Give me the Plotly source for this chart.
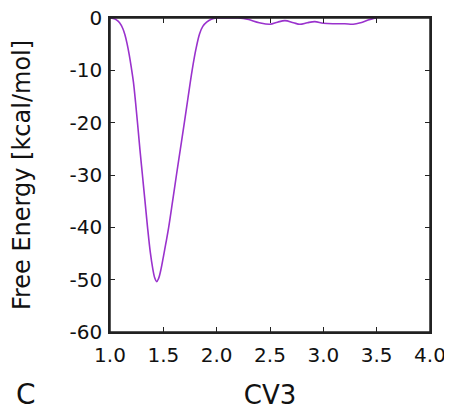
import plotly.graph_objects as go

# Free energy profile along CV3
cv3 = [1.00, 1.03, 1.06, 1.09, 1.12, 1.14, 1.16, 1.18, 1.20, 1.22, 1.24, 1.26,
       1.28, 1.304, 1.328, 1.352, 1.378, 1.40, 1.42, 1.437, 1.455, 1.475, 1.50,
       1.525, 1.55, 1.587, 1.623, 1.66, 1.697, 1.733, 1.77, 1.805, 1.84, 1.87,
       1.906, 1.95, 2.00, 2.10, 2.20, 2.25, 2.30, 2.40, 2.50, 2.57, 2.64, 2.72,
       2.78, 2.85, 2.92, 3.00, 3.10, 3.20, 3.28, 3.35, 3.42, 3.48, 3.50]
free_energy = [0.0, -0.1, -0.35, -0.9, -2.0, -3.2, -4.9, -7.0, -9.5, -12.3, -16.2, -20.5,
               -25.0, -30.0, -35.0, -40.0, -44.8, -47.8, -49.7, -50.4, -49.8, -48.3, -45.7,
               -42.9, -40.0, -35.0, -30.0, -25.0, -20.0, -15.0, -10.0, -6.0, -3.0, -1.6,
               -0.8, -0.25, 0.0, 0.0, 0.0, -0.1, -0.3, -0.9, -1.2, -0.8, -0.5, -0.9,
               -1.2, -0.9, -0.7, -1.0, -1.1, -1.1, -1.2, -0.9, -0.4, -0.05, 0.0]

x_ticks = [1.0, 1.5, 2.0, 2.5, 3.0, 3.5, 4.0]
x_tick_labels = ["1.0", "1.5", "2.0", "2.5", "3.0", "3.5", "4.0"]
y_ticks = [0, -10, -20, -30, -40, -50, -60]
y_tick_labels = ["0", "-10", "-20", "-30", "-40", "-50", "-60"]

x_title = "CV3"
y_title = "Free Energy [kcal/mol]"
panel_label = "C"

FONT = "DejaVu Sans"
AXIS_COLOR = "#222222"
TEXT_COLOR = "#111111"

fig = go.Figure()
fig.add_trace(go.Scatter(
    x=cv3, y=free_energy, mode="lines",
    line=dict(color="#9a32cd", width=1.6, shape="spline", smoothing=1.0),
    showlegend=False, hoverinfo="skip",
))

axis_common = dict(
    showline=True, linecolor=AXIS_COLOR, linewidth=1.5, mirror="ticks",
    ticks="inside", ticklen=5, tickwidth=1.2, tickcolor=AXIS_COLOR,
    showgrid=False, zeroline=False, automargin=False,
    ticklabeloverflow="allow",
    tickfont=dict(family=FONT, size=20, color=TEXT_COLOR),
)

fig.update_xaxes(
    range=[1.0, 4.0], tickmode="array", tickvals=x_ticks, ticktext=x_tick_labels,
    ticklabelstandoff=4,
    title=dict(text=x_title, font=dict(family=FONT, size=26, color=TEXT_COLOR), standoff=20),
    **axis_common,
)
fig.update_yaxes(
    range=[-60, 0], tickmode="array", tickvals=y_ticks, ticktext=y_tick_labels,
    ticklabelstandoff=2,
    title=dict(text=y_title, font=dict(family=FONT, size=24, color=TEXT_COLOR), standoff=47),
    **axis_common,
)

# plot frame (top edge of the axes box)
fig.add_shape(
    type="rect", xref="paper", yref="paper", x0=0, x1=1, y0=0, y1=1,
    line=dict(color=AXIS_COLOR, width=1.5), layer="above",
)

fig.add_annotation(
    text=panel_label, xref="paper", yref="paper", x=-0.30, y=-0.20,
    xanchor="left", yanchor="middle", showarrow=False,
    font=dict(family=FONT, size=28, color=TEXT_COLOR),
)

# the page body adds an 8 px offset; margins compensate for it
fig.update_layout(
    width=452, height=410,
    margin=dict(l=102, r=30, t=10, b=86),
    paper_bgcolor="white", plot_bgcolor="white",
)

fig.write_html("out.html", config={"displayModeBar": False})
